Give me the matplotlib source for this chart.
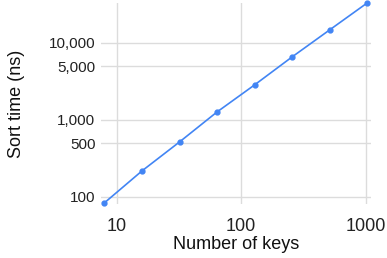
import matplotlib
matplotlib.use("Agg")
from matplotlib import pyplot as plt
from matplotlib.ticker import FixedLocator, FuncFormatter, NullLocator

# sort time vs number of keys
KEYS = [8, 16, 32, 64, 128, 256, 512, 1024]
SORT_NS = [84, 218, 518, 1270, 2850, 6580, 14750, 33000]

X_TICKS = [10, 100, 1000]
Y_TICKS = [100, 500, 1000, 5000, 10000]

BLUE = '#4285f4'
GRID = '#dcdcdc'

plt.rcParams['font.family'] = ['Liberation Sans', 'DejaVu Sans']

fig = plt.figure(figsize=(3.87, 2.58), dpi=100)
ax = fig.add_axes([101 / 387, 1 - 204 / 258, 270 / 387, 201 / 258])

ax.plot(KEYS, SORT_NS, color=BLUE, lw=1.2, marker='o', ms=3.5, clip_on=False, zorder=3)

ax.set_xscale('log')
ax.set_yscale('log')
ax.set_xlim(7.5, 1100)
ax.set_ylim(81, 33000)

ax.xaxis.set_major_locator(FixedLocator(X_TICKS))
ax.xaxis.set_minor_locator(NullLocator())
ax.yaxis.set_major_locator(FixedLocator(Y_TICKS))
ax.yaxis.set_minor_locator(NullLocator())
ax.xaxis.set_major_formatter(FuncFormatter(lambda v, p: '%d' % v))
ax.yaxis.set_major_formatter(FuncFormatter(lambda v, p: '{:,}'.format(int(v))))

ax.grid(True, color=GRID, lw=1)
ax.set_axisbelow(True)
for s in ax.spines.values():
	s.set_visible(False)
ax.tick_params(length=0, colors='#222222')
ax.tick_params(axis='x', pad=10, labelsize=13)
ax.tick_params(axis='y', pad=4, labelsize=11)

ax.set_xlabel('Number of keys', fontsize=13, color='#111111', labelpad=1)
ax.set_ylabel('Sort time (ns)', fontsize=13, color='#111111', labelpad=17)

fig.savefig('out.png', dpi=100)
